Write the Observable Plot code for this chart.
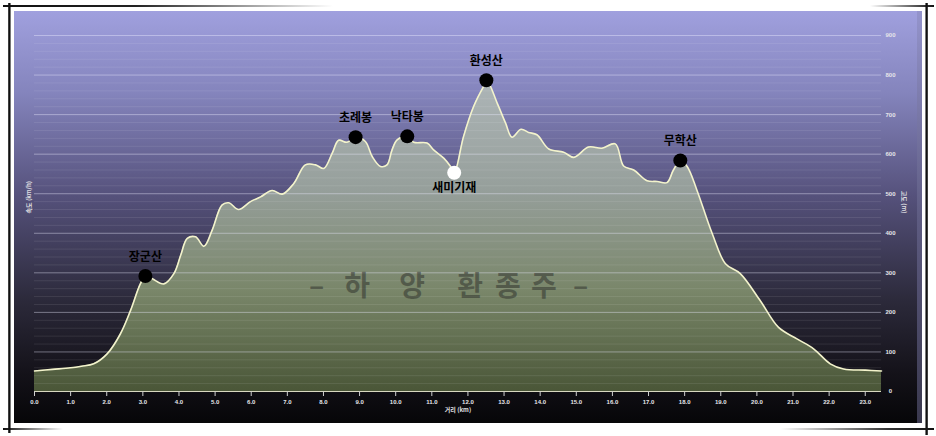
<!DOCTYPE html>
<html><head><meta charset="utf-8">
<script src="https://cdn.jsdelivr.net/npm/d3@7"></script>
<script src="https://cdn.jsdelivr.net/npm/@observablehq/plot@0.6"></script>
<style>
html,body{margin:0;padding:0;background:#fff;}
#wrap{position:relative;width:936px;height:436px;overflow:hidden;background:#fff;}
.panel{position:absolute;left:14px;top:11px;width:903px;height:412px;
 background:linear-gradient(to bottom,#a0a0de 0%,#8484bc 20%,#55517b 45%,#2c2a3b 70%,#141219 88%,#060608 100%);}
.strip{position:absolute;left:917px;top:11px;width:5px;height:412px;
 background:linear-gradient(to bottom,#9494cc,#5e5c82 50%,#3a394e);}
.fl{position:absolute;}
#chart{position:absolute;left:0;top:0;}
</style></head>
<body>
<div id="wrap">
  <div class="panel"></div>
  <div class="strip"></div>
  <div class="fl" style="left:8px;top:3px;width:3px;height:430px;background:linear-gradient(to right,#555,#111 50%,#aaa);"></div>
  <div class="fl" style="left:3px;top:5px;width:330px;height:2px;background:linear-gradient(to right,#111,#222 40%,rgba(0,0,0,0));"></div>
  <div class="fl" style="left:3px;top:428px;width:60px;height:2px;background:linear-gradient(to right,#111,rgba(0,0,0,0));"></div>
  <div class="fl" style="left:925px;top:3px;width:3px;height:432px;background:linear-gradient(to right,#aaa,#111 50%,#555);"></div>
  <div class="fl" style="left:780px;top:428px;width:154px;height:2px;background:linear-gradient(to left,#111,#333 30%,rgba(0,0,0,0));"></div>
  <div class="fl" style="left:870px;top:5px;width:64px;height:2px;background:linear-gradient(to left,#111,rgba(0,0,0,0));"></div>
  <div id="chart"></div>
</div>
<script>
// distance (km) and elevation (m) along the route
const km = [0.00,0.50,1.00,1.30,1.64,2.01,2.38,2.66,2.93,3.07,3.26,3.58,3.86,4.05,4.23,4.46,4.69,4.92,5.19,5.38,5.65,5.98,6.26,6.58,6.86,7.18,7.50,7.78,8.01,8.24,8.42,8.65,8.89,9.16,9.35,9.58,9.76,9.90,10.04,10.32,10.50,10.87,11.05,11.33,11.51,11.62,11.88,12.16,12.44,12.53,12.81,13.04,13.22,13.47,13.68,13.91,14.24,14.65,14.93,15.34,15.71,16.08,16.31,16.59,16.96,17.24,17.51,17.69,17.88,18.07,18.34,18.76,19.13,19.54,20.09,20.60,21.11,21.57,22.03,22.40,23.00,23.45];
const elev = [52,56,60,64,70,95,146,205,272,292,285,272,298,345,387,391,367,408,471,477,460,480,492,508,499,526,573,573,564,602,635,630,643,632,594,569,573,611,636,645,630,628,611,590,570,553,645,721,772,785,729,679,643,663,655,649,613,605,592,618,615,626,570,560,533,531,528,560,584,569,509,400,323,298,230,162,133,108,70,57,54,52];

// named points
const peakNames = ["장군산","초례봉","낙타봉","환성산","새미기재","무학산"];
const peakKm    = [3.07, 8.89, 10.32, 12.51, 11.62, 17.88];
const peakElev  = [292, 643, 645, 787, 553, 584];
const peakKind  = ["peak","peak","peak","peak","pass","peak"];

// tick labels
const xTicks = [0,1,2,3,4,5,6,7,8,9,10,11,12,13,14,15,16,17,18,19,20,21,22,23];
const yTicks = [0,100,200,300,400,500,600,700,800,900];
const minorTicks = d3.range(20, 900, 20).filter(v => v % 100 !== 0);

// watermark characters
const watermarkChars = ["–","하","양","환","종","주","–"];
const watermarkText = watermarkChars.join(" ");

const profile = km.map((k, i) => ({km: k, elev: elev[i]}));
const peaks = peakNames.map((n, i) => ({name: n, km: peakKm[i], elev: peakElev[i], kind: peakKind[i]}));

const tickStyle = {fontSize: 6, fontWeight: "bold", fill: "#e6e6ea", fontFamily: "Liberation Sans"};

const chart = Plot.plot({
  width: 936, height: 436,
  marginLeft: 34, marginRight: 55, marginTop: 35, marginBottom: 45,
  style: {background: "transparent", overflow: "visible", fontFamily: "Liberation Sans"},
  x: {domain: [0, 23.45], axis: null},
  y: {domain: [0, 900], axis: null},
  marks: [
    Plot.areaY(profile, {x: "km", y: "elev", fill: "url(#areaGrad)", curve: "catmull-rom"}),
    Plot.ruleY(minorTicks, {stroke: "#ffffff", strokeOpacity: 0.09}),
    Plot.ruleY(yTicks.filter(v => v > 0), {stroke: "#ececff", strokeOpacity: 0.42}),
    Plot.lineY(profile, {x: "km", y: "elev", stroke: "#f3f3cc", strokeWidth: 1.6, curve: "catmull-rom"}),
    Plot.ruleY([0], {stroke: "#d8d8c0", strokeWidth: 1}),
    Plot.text([watermarkText], {
      frameAnchor: "middle", dy: 74, fontSize: 28, fontWeight: "bold",
      fontFamily: "Noto Sans CJK KR", fill: "#2a2c28", fillOpacity: 0.5
    }),
    Plot.axisX(xTicks, {anchor: "bottom", tickSize: 5, tickPadding: 3, stroke: "#d0d0d0",
      tickFormat: d => d.toFixed(1), label: null, ...tickStyle}),
    Plot.axisY(yTicks, {anchor: "right", tickSize: 0, tickPadding: 9, textAnchor: "middle",
      label: null, ...tickStyle}),
    Plot.text(["거리 (km)"], {frameAnchor: "bottom", dy: 20, fontSize: 6, fontWeight: "bold", fill: "#e0e0e4", fontFamily: "Noto Sans CJK KR"}),
    Plot.text(["고도 (m)"], {frameAnchor: "right", dx: 22, rotate: 90, fontSize: 6, fontWeight: "bold", fill: "#e0e0e4", fontFamily: "Noto Sans CJK KR"}),
    Plot.text(["속도 (km/h)"], {frameAnchor: "left", dx: -5, rotate: -90, fontSize: 6, fontWeight: "bold", fill: "#e0e0e4", fontFamily: "Noto Sans CJK KR"}),
    Plot.dot(peaks.filter(d => d.kind === "peak"), {x: "km", y: "elev", r: 7, fill: "#000", stroke: "none"}),
    Plot.dot(peaks.filter(d => d.kind === "pass"), {x: "km", y: "elev", r: 7, fill: "#fff", stroke: "none"}),
    Plot.text(peaks.filter(d => d.kind === "peak"), {x: "km", y: "elev", text: "name", dy: -19,
      fontSize: 12, fontWeight: "bold", fill: "#000", fontFamily: "Noto Sans CJK KR"}),
    Plot.text(peaks.filter(d => d.kind === "pass"), {x: "km", y: "elev", text: "name", dy: 15,
      fontSize: 12, fontWeight: "bold", fill: "#000", fontFamily: "Noto Sans CJK KR"})
  ]
});

d3.select(chart).insert("defs", ":first-child").html(
  '<linearGradient id="areaGrad" x1="0" y1="0" x2="0" y2="1">' +
  '<stop offset="0" stop-color="#adb5b7"/>' +
  '<stop offset="0.35" stop-color="#969f9b"/>' +
  '<stop offset="0.68" stop-color="#798669"/>' +
  '<stop offset="1" stop-color="#4a5637"/>' +
  '</linearGradient>');

// spread the watermark characters unevenly, as in the original artwork
const wmSpread = [-141.5, -101, -46, 12, 50, 86, 122.5];
d3.select(chart).selectAll("text")
  .filter(function() { return this.textContent === watermarkText; })
  .each(function() {
    const t = d3.select(this);
    const bx = +(t.attr("x") || 0);
    t.text(null).attr("text-anchor", "middle");
    watermarkChars.forEach((c, i) => {
      t.append("tspan").attr("x", bx + wmSpread[i]).text(c);
    });
  });

document.getElementById("chart").appendChild(chart);
</script>
</body></html>
